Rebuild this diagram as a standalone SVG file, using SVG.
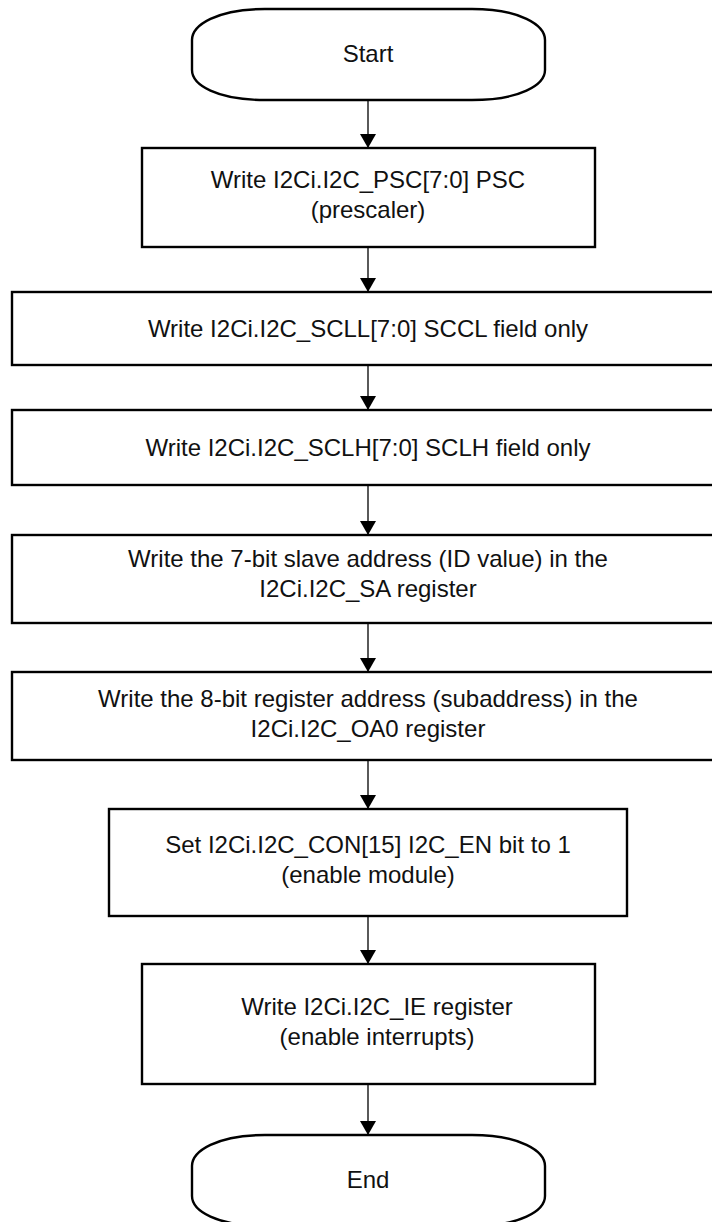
<svg xmlns="http://www.w3.org/2000/svg" width="712" height="1222" viewBox="0 0 712 1222">
<defs>
<style>
.box{fill:#fff;stroke:#000;stroke-width:2.4}
.term{fill:#fff;stroke:#000;stroke-width:2.4}
.conn{fill:none;stroke:#000;stroke-width:1.3}
text{font-family:"Liberation Sans",Arial,sans-serif;font-size:24px;fill:#111;text-anchor:middle}
</style>
<marker id="ah" viewBox="0 0 14 16" refX="14" refY="8" markerWidth="14" markerHeight="16" orient="auto" markerUnits="userSpaceOnUse">
<path d="M0,0 L14,8 L0,16 Z" fill="#000"/>
</marker>
</defs>
<rect width="712" height="1222" fill="#fff"/>
<g id="connectors">
<line class="conn" x1="368" y1="100" x2="368" y2="148" marker-end="url(#ah)"/>
<line class="conn" x1="368" y1="247" x2="368" y2="292" marker-end="url(#ah)"/>
<line class="conn" x1="368" y1="365" x2="368" y2="410" marker-end="url(#ah)"/>
<line class="conn" x1="368" y1="485" x2="368" y2="535" marker-end="url(#ah)"/>
<line class="conn" x1="368" y1="623" x2="368" y2="672" marker-end="url(#ah)"/>
<line class="conn" x1="368" y1="760" x2="368" y2="809" marker-end="url(#ah)"/>
<line class="conn" x1="368" y1="916" x2="368" y2="964" marker-end="url(#ah)"/>
<line class="conn" x1="368" y1="1084" x2="368" y2="1135" marker-end="url(#ah)"/>
</g>
<g id="start">
<path class="term" d="M265,9 H472 C520,9 545,25 545,40 V70 C545,85 520,100 472,100 H265 C217,100 192,85 192,70 V40 C192,25 217,9 265,9 Z"/>
<text x="368" y="62">Start</text>
</g>
<g id="psc">
<rect class="box" x="142" y="148" width="453" height="99"/>
<text x="368" y="188">Write I2Ci.I2C_PSC[7:0] PSC</text>
<text x="368" y="218">(prescaler)</text>
</g>
<g id="scll">
<rect class="box" x="12" y="292" width="720" height="73"/>
<text x="368" y="337">Write I2Ci.I2C_SCLL[7:0] SCCL field only</text>
</g>
<g id="sclh">
<rect class="box" x="12" y="410" width="720" height="75"/>
<text x="368" y="456">Write I2Ci.I2C_SCLH[7:0] SCLH field only</text>
</g>
<g id="sa">
<rect class="box" x="12" y="535" width="720" height="88"/>
<text x="368" y="567">Write the 7-bit slave address (ID value) in the</text>
<text x="368" y="597">I2Ci.I2C_SA register</text>
</g>
<g id="oa0">
<rect class="box" x="12" y="672" width="720" height="88"/>
<text x="368" y="707">Write the 8-bit register address (subaddress) in the</text>
<text x="368" y="737">I2Ci.I2C_OA0 register</text>
</g>
<g id="con">
<rect class="box" x="109" y="809" width="518" height="107"/>
<text x="368" y="853">Set I2Ci.I2C_CON[15] I2C_EN bit to 1</text>
<text x="368" y="883">(enable module)</text>
</g>
<g id="ie">
<rect class="box" x="142" y="964" width="453" height="120"/>
<text x="377" y="1015">Write I2Ci.I2C_IE register</text>
<text x="377" y="1045">(enable interrupts)</text>
</g>
<g id="end">
<path class="term" d="M265,1135 H472 C520,1135 545,1151 545,1166 V1196 C545,1211 520,1226 472,1226 H265 C217,1226 192,1211 192,1196 V1166 C192,1151 217,1135 265,1135 Z"/>
<text x="368" y="1188">End</text>
</g>
</svg>
